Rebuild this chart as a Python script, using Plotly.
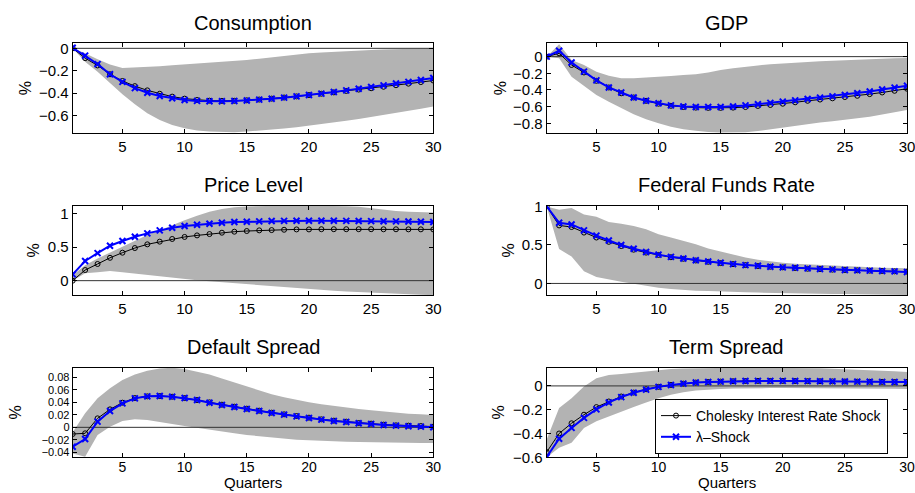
import plotly.graph_objects as go

quarters = list(range(1, 31))

# ---------------- data ----------------
cons_chol = [0.0, -0.088, -0.153, -0.232, -0.292, -0.338, -0.376, -0.406, -0.432, -0.450,
             -0.462, -0.468, -0.470, -0.469, -0.465, -0.458, -0.450, -0.440, -0.430, -0.418,
             -0.406, -0.394, -0.381, -0.369, -0.357, -0.344, -0.330, -0.316, -0.302, -0.288]
cons_lam = [0.005, -0.065, -0.141, -0.232, -0.300, -0.356, -0.397, -0.426, -0.447, -0.462,
            -0.470, -0.474, -0.474, -0.471, -0.466, -0.459, -0.451, -0.441, -0.430, -0.418,
            -0.405, -0.391, -0.376, -0.361, -0.346, -0.331, -0.315, -0.300, -0.284, -0.266]
cons_lo = [0.0, -0.12, -0.21, -0.31, -0.41, -0.50, -0.58, -0.64, -0.685, -0.715,
           -0.735, -0.745, -0.750, -0.750, -0.745, -0.737, -0.728, -0.718, -0.705, -0.692,
           -0.677, -0.662, -0.647, -0.631, -0.614, -0.597, -0.579, -0.560, -0.540, -0.520]
cons_hi = [0.0, -0.045, -0.098, -0.145, -0.175, -0.172, -0.166, -0.160, -0.152, -0.145,
           -0.138, -0.130, -0.122, -0.114, -0.105, -0.093, -0.080, -0.067, -0.055, -0.045,
           -0.037, -0.030, -0.024, -0.019, -0.014, -0.010, -0.007, -0.004, -0.002, 0.0]

gdp_chol = [0.0, 0.04, -0.10, -0.19, -0.29, -0.37, -0.44, -0.49, -0.53, -0.565,
            -0.59, -0.605, -0.612, -0.615, -0.615, -0.612, -0.605, -0.592, -0.58, -0.565,
            -0.548, -0.53, -0.515, -0.50, -0.485, -0.47, -0.45, -0.43, -0.41, -0.385]
gdp_lam = [0.0, 0.07, -0.07, -0.18, -0.285, -0.37, -0.43, -0.49, -0.53, -0.56,
           -0.585, -0.598, -0.605, -0.605, -0.605, -0.598, -0.585, -0.572, -0.555, -0.54,
           -0.525, -0.508, -0.492, -0.477, -0.46, -0.44, -0.418, -0.395, -0.372, -0.35]
gdp_lo = [0.0, -0.02, -0.24, -0.35, -0.46, -0.54, -0.62, -0.69, -0.75, -0.80,
          -0.84, -0.87, -0.89, -0.905, -0.91, -0.91, -0.908, -0.892, -0.87, -0.85,
          -0.83, -0.81, -0.79, -0.775, -0.76, -0.74, -0.72, -0.695, -0.67, -0.64]
gdp_hi = [0.0, 0.15, -0.04, -0.10, -0.18, -0.23, -0.26, -0.26, -0.25, -0.245,
          -0.232, -0.22, -0.21, -0.19, -0.16, -0.14, -0.12, -0.105, -0.092, -0.08,
          -0.072, -0.065, -0.056, -0.048, -0.04, -0.032, -0.028, -0.024, -0.02, -0.016]

price_chol = [0.0, 0.158, 0.248, 0.34, 0.416, 0.485, 0.54, 0.58, 0.62, 0.65,
              0.673, 0.693, 0.713, 0.728, 0.738, 0.748, 0.752, 0.757, 0.762, 0.762,
              0.765, 0.765, 0.765, 0.765, 0.765, 0.764, 0.764, 0.763, 0.763, 0.762]
price_lam = [0.094, 0.292, 0.41, 0.52, 0.59, 0.653, 0.703, 0.748, 0.787, 0.812,
             0.832, 0.847, 0.861, 0.871, 0.876, 0.881, 0.886, 0.889, 0.891, 0.891,
             0.891, 0.89, 0.889, 0.887, 0.885, 0.883, 0.881, 0.879, 0.876, 0.872]
price_lo = [0.0, 0.11, 0.124, 0.144, 0.124, 0.104, 0.084, 0.06, 0.035, 0.02,
            0.005, -0.01, -0.025, -0.04, -0.055, -0.07, -0.085, -0.10, -0.115, -0.13,
            -0.14, -0.15, -0.16, -0.17, -0.18, -0.19, -0.20, -0.205, -0.21, -0.215]
price_hi = [0.08, 0.23, 0.33, 0.42, 0.505, 0.59, 0.68, 0.75, 0.83, 0.90,
            0.965, 1.025, 1.064, 1.09, 1.104, 1.11, 1.114, 1.115, 1.115, 1.115,
            1.114, 1.112, 1.108, 1.10, 1.075, 1.05, 1.035, 1.025, 1.02, 1.015]

fed_chol = [1.0, 0.753, 0.732, 0.66, 0.596, 0.54, 0.485, 0.438, 0.40, 0.37,
            0.34, 0.32, 0.298, 0.281, 0.264, 0.251, 0.238, 0.226, 0.217, 0.209,
            0.20, 0.191, 0.187, 0.179, 0.174, 0.17, 0.166, 0.162, 0.157, 0.153]
fed_lam = [1.0, 0.787, 0.766, 0.689, 0.621, 0.557, 0.498, 0.451, 0.409, 0.374,
           0.345, 0.323, 0.302, 0.285, 0.268, 0.251, 0.238, 0.23, 0.217, 0.209,
           0.204, 0.196, 0.187, 0.183, 0.174, 0.17, 0.166, 0.162, 0.157, 0.149]
fed_lo = [1.0, 0.447, 0.349, 0.157, 0.085, 0.051, 0.021, -0.004, -0.03, -0.055,
          -0.072, -0.085, -0.094, -0.098, -0.106, -0.111, -0.115, -0.119, -0.123, -0.123,
          -0.128, -0.132, -0.132, -0.136, -0.136, -0.14, -0.14, -0.145, -0.145, -0.149]
fed_hi = [1.0, 0.957, 0.979, 0.894, 0.864, 0.796, 0.774, 0.745, 0.702, 0.638,
          0.596, 0.553, 0.51, 0.455, 0.413, 0.37, 0.336, 0.306, 0.285, 0.268,
          0.255, 0.247, 0.238, 0.23, 0.221, 0.213, 0.209, 0.204, 0.2, 0.196]

def_chol = [-0.0107, -0.0096, 0.0144, 0.0288, 0.0395, 0.0469, 0.0496, 0.0501, 0.049, 0.0469,
            0.0437, 0.040, 0.0363, 0.0331, 0.0299, 0.0267, 0.0235, 0.0208, 0.0181, 0.0155,
            0.0128, 0.0107, 0.0091, 0.0069, 0.0059, 0.0043, 0.0032, 0.0027, 0.0021, 0.0011]
def_lam = [-0.031, -0.0187, 0.0091, 0.0261, 0.0384, 0.0464, 0.0496, 0.0501, 0.049, 0.0469,
           0.0437, 0.0395, 0.0357, 0.0325, 0.0293, 0.0261, 0.0229, 0.0203, 0.0176, 0.0149,
           0.0123, 0.0101, 0.0085, 0.0064, 0.0053, 0.0037, 0.0027, 0.0016, 0.0011, 0.0]
def_lo = [-0.042, -0.047, -0.0123, 0.0011, 0.0101, 0.0128, 0.0117, 0.0091, 0.0053, 0.0021,
          -0.0011, -0.0043, -0.0069, -0.0096, -0.0123, -0.0144, -0.0165, -0.0181, -0.0197, -0.0208,
          -0.0219, -0.0224, -0.0229, -0.0235, -0.024, -0.024, -0.0245, -0.0245, -0.025, -0.025]
def_hi = [-0.008, 0.0224, 0.0464, 0.0624, 0.0757, 0.0848, 0.0907, 0.0944, 0.0955, 0.0933,
          0.0891, 0.0848, 0.0784, 0.072, 0.0651, 0.0581, 0.0528, 0.048, 0.0437, 0.040,
          0.0368, 0.0341, 0.0315, 0.0293, 0.0272, 0.0251, 0.0235, 0.0219, 0.0208, 0.0197]

term_chol = [-0.556, -0.40, -0.314, -0.242, -0.178, -0.131, -0.089, -0.056, -0.028, -0.008,
             0.008, 0.019, 0.028, 0.033, 0.036, 0.039, 0.041, 0.042, 0.042, 0.042,
             0.041, 0.04, 0.039, 0.038, 0.037, 0.036, 0.035, 0.034, 0.033, 0.033]
term_lam = [-0.598, -0.444, -0.353, -0.269, -0.197, -0.139, -0.094, -0.058, -0.031, -0.008,
            0.008, 0.019, 0.028, 0.033, 0.036, 0.039, 0.041, 0.042, 0.042, 0.042,
            0.041, 0.04, 0.039, 0.038, 0.037, 0.036, 0.035, 0.034, 0.033, 0.032]
term_lo = [-0.60, -0.52, -0.478, -0.353, -0.297, -0.256, -0.214, -0.178, -0.139, -0.103,
           -0.075, -0.053, -0.039, -0.031, -0.025, -0.022, -0.019, -0.018, -0.018, -0.018,
           -0.018, -0.019, -0.019, -0.02, -0.021, -0.022, -0.022, -0.023, -0.024, -0.025]
term_hi = [-0.45, -0.186, -0.103, -0.006, 0.064, 0.092, 0.10, 0.111, 0.119, 0.133,
           0.142, 0.147, 0.15, 0.152, 0.153, 0.153, 0.153, 0.153, 0.153, 0.153,
           0.152, 0.15, 0.148, 0.145, 0.142, 0.139, 0.135, 0.13, 0.124, 0.117]

titles = ["Consumption", "GDP", "Price Level", "Federal Funds Rate", "Default Spread", "Term Spread"]
series_names = ["Cholesky Interest Rate Shock", "λ–Shock"]

x_tickvals = [5, 10, 15, 20, 25, 30]
x_ticktext = ["5", "10", "15", "20", "25", "30"]

cons_ticks = [-0.6, -0.4, -0.2, 0]
cons_ticktext = ["−0.6", "−0.4", "−0.2", "0"]
gdp_ticks = [-0.8, -0.6, -0.4, -0.2, 0]
gdp_ticktext = ["−0.8", "−0.6", "−0.4", "−0.2", "0"]
price_ticks = [0, 0.5, 1]
price_ticktext = ["0", "0.5", "1"]
fed_ticks = [0, 0.5, 1]
fed_ticktext = ["0", "0.5", "1"]
def_ticks = [-0.04, -0.02, 0, 0.02, 0.04, 0.06, 0.08]
def_ticktext = ["−0.04", "−0.02", "0", "0.02", "0.04", "0.06", "0.08"]
term_ticks = [-0.6, -0.4, -0.2, 0]
term_ticktext = ["−0.6", "−0.4", "−0.2", "0"]

panels = [
    (cons_chol, cons_lam, cons_lo, cons_hi, cons_ticks, cons_ticktext, [-0.76, 0.045]),
    (gdp_chol, gdp_lam, gdp_lo, gdp_hi, gdp_ticks, gdp_ticktext, [-0.92, 0.16]),
    (price_chol, price_lam, price_lo, price_hi, price_ticks, price_ticktext, [-0.213, 1.11]),
    (fed_chol, fed_lam, fed_lo, fed_hi, fed_ticks, fed_ticktext, [-0.15, 1.005]),
    (def_chol, def_lam, def_lo, def_hi, def_ticks, def_ticktext, [-0.048, 0.0955]),
    (term_chol, term_lam, term_lo, term_hi, term_ticks, term_ticktext, [-0.6, 0.153]),
]

# ---------------- layout geometry ----------------
W, H = 915, 493
col_x = [(72.7, 433.3), (546.7, 907.0)]
row_y = [(43.3, 133.3), (206.0, 295.0), (367.7, 457.3)]
title_y = [23, 185, 347]
pct_x = [[25, 500], [33, 508], [15, 498]]
ytick_size = [15, 15, 15, 15, 11, 15]
xtick_size = [15, 15, 15, 15, 14, 14]
xtick_standoff = [0, 0, 0, 0, -3, -3]

FONT = "Liberation Sans, Arial, Helvetica, sans-serif"
BAND = "#b3b3b3"

fig = go.Figure()
annotations = []
layout_axes = {}

for i, (chol, lam, lo, hi, yt, ytt, yr) in enumerate(panels):
    r, c = divmod(i, 2)
    n = i + 1
    xa = "x" if n == 1 else f"x{n}"
    ya = "y" if n == 1 else f"y{n}"
    # band
    fig.add_trace(go.Scatter(x=quarters, y=lo, mode="lines", line=dict(width=0, color=BAND),
                             showlegend=False, hoverinfo="skip", xaxis=xa, yaxis=ya))
    fig.add_trace(go.Scatter(x=quarters, y=hi, mode="lines", line=dict(width=0, color=BAND),
                             fill="tonexty", fillcolor=BAND, showlegend=False, hoverinfo="skip",
                             xaxis=xa, yaxis=ya))
    # zero reference line
    fig.add_trace(go.Scatter(x=[quarters[0], quarters[-1]], y=[0, 0], mode="lines",
                             line=dict(width=1, color="#333333"), showlegend=False,
                             hoverinfo="skip", xaxis=xa, yaxis=ya))
    # responses
    fig.add_trace(go.Scatter(x=quarters, y=chol, mode="lines+markers", name=series_names[0],
                             line=dict(color="black", width=1),
                             marker=dict(symbol="circle-open", size=5, color="black",
                                         line=dict(width=1, color="black")),
                             showlegend=(n == 6), xaxis=xa, yaxis=ya))
    fig.add_trace(go.Scatter(x=quarters, y=lam, mode="lines+markers", name=series_names[1],
                             line=dict(color="#0000ff", width=2),
                             marker=dict(symbol="x-thin", size=6, color="#0000ff",
                                         line=dict(width=2, color="#0000ff")),
                             showlegend=(n == 6), xaxis=xa, yaxis=ya))

    x0, x1 = col_x[c]
    yt0, yb0 = row_y[r]
    common = dict(showline=True, linecolor="black", linewidth=1, mirror="allticks",
                  ticks="inside", ticklen=4, tickcolor="black", tickwidth=1,
                  showgrid=False, zeroline=False, automargin=False,
                  ticklabeloverflow="allow")
    layout_axes["xaxis" if n == 1 else f"xaxis{n}"] = dict(
        domain=[x0 / W, x1 / W], anchor=ya, range=[1, 30],
        tickmode="array", tickvals=x_tickvals, ticktext=x_ticktext,
        ticklabelstandoff=xtick_standoff[i],
        tickfont=dict(family=FONT, size=xtick_size[i], color="black"), **common)
    layout_axes["yaxis" if n == 1 else f"yaxis{n}"] = dict(
        domain=[1 - yb0 / H, 1 - yt0 / H], anchor=xa, range=yr,
        tickmode="array", tickvals=yt, ticktext=ytt,
        tickfont=dict(family=FONT, size=ytick_size[i], color="black"), **common)

    annotations.append(dict(text=titles[i], xref="paper", yref="paper",
                            x=(x0 + x1) / 2 / W, y=1 - title_y[r] / H,
                            xanchor="center", yanchor="middle", showarrow=False,
                            font=dict(family=FONT, size=20, color="black")))
    annotations.append(dict(text="%", xref="paper", yref="paper",
                            x=pct_x[r][c] / W, y=1 - (yt0 + yb0) / 2 / H,
                            xanchor="center", yanchor="middle", textangle=-90, showarrow=False,
                            font=dict(family=FONT, size=16, color="black")))
    if r == 2:
        annotations.append(dict(text="Quarters", xref="paper", yref="paper",
                                x=(x0 + x1) / 2 / W, y=0,
                                xanchor="center", yanchor="bottom", showarrow=False,
                                font=dict(family=FONT, size=15, color="black")))

fig.update_layout(
    width=W, height=H,
    margin=dict(l=0, r=0, t=0, b=0, autoexpand=False),
    paper_bgcolor="white", plot_bgcolor="white",
    font=dict(family=FONT, size=15, color="black"),
    annotations=annotations,
    legend=dict(x=655 / W, y=1 - 454 / H, xanchor="left", yanchor="bottom",
                bgcolor="white", bordercolor="black", borderwidth=1,
                font=dict(family=FONT, size=14, color="black"),
                itemwidth=30, tracegroupgap=0, traceorder="normal"),
    **layout_axes,
)

fig.write_html("out.html", config={"displayModeBar": False},
               post_script="document.body.style.margin='0';document.body.style.overflow='hidden';")
